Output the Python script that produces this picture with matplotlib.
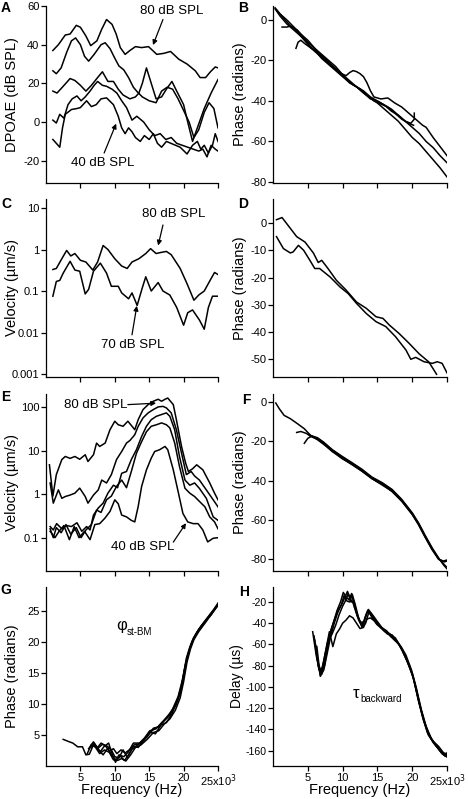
import matplotlib
matplotlib.use("Agg")
import matplotlib.pyplot as plt
from matplotlib.ticker import NullLocator

plt.rcParams['font.family'] = ['Liberation Sans', 'DejaVu Sans']
plt.rcParams['axes.linewidth'] = 0.9
plt.rcParams['axes.unicode_minus'] = False

# ---- data (frequency in kHz) ----
# A: DPOAE levels
a1_f = [1.0,1.8,2.8,3.5,4.4,5.0,5.8,6.5,7.4,8.1,8.8,9.6,10.2,10.8,11.5,12.2,13.0,13.9,14.9,16.1,17.1,18.1,19.3,20.5,21.7,22.4,23.2,23.9,24.6,25.0]
a1_v = [37,40,45,45.5,50,49,44.5,39.5,42,48,53,50.5,45.5,38.5,35,37,39,38.5,39,35,35.5,36.5,32.5,30,26.5,23,23,26,28.5,28]
a2_f = [1.0,1.5,2.2,3.0,3.7,4.3,5.0,5.6,6.2,7.0,8.0,8.6,9.3,10.0,10.6,11.3,12.0,12.7,13.3,14.0,15.0,16.0,16.8,17.6,18.4,19.2,20.0,20.8,21.5,22.2,23.0,23.7,24.4,25.0]
a2_v = [26.5,25,28,36,42,43.5,40,34,31.5,35,40,41,38,33,29,27,23,18,15.5,13,11,10,16,18,17,12,6,0,-8,-4,5,10,7,-3]
a3_f = [1.0,1.6,2.5,3.5,4.2,5.0,5.8,6.6,7.5,8.2,9.0,9.8,10.5,11.2,12.2,13.0,13.5,14.0,14.6,15.3,16.0,16.8,17.5,18.3,19.0,20.0,20.6,21.3,22.0,23.0,24.0,25.0]
a3_v = [16,15,18.5,22.5,21.5,19,16,19,23,26,21,21,17,14,12,13,15,20,28,20,12,13,17,21,16,9,0,-10,-3,7,15,22]
a4_f = [1.0,1.5,2.0,2.6,3.2,3.8,4.5,5.1,5.7,6.4,7.0,7.5,8.2,8.8,9.6,10.3,11.0,11.7,12.5,13.2,14.2,15.0,15.8,16.6,17.4,18.2,19.0,19.8,20.6,21.4,22.2,22.8,23.4,24.0,24.6,25.0]
a4_v = [1,-0.5,4,2,9,12,13.5,11,13,16,19,21,19,18.5,17,15,11,7.5,1,3,0,-4,-7,-6,-9,-8,-11,-12,-13,-14,-15,-14,-18,-12,-14,-15]
a5_f = [1.0,1.5,2.0,2.4,2.8,3.7,4.5,5.0,5.9,6.6,7.3,8.0,8.8,9.8,10.5,11.0,11.5,12.0,12.5,13.0,13.7,14.3,15.0,15.6,16.2,16.8,17.5,18.5,19.5,20.5,21.3,22.0,22.5,23.0,23.6,24.2,24.6,25.0]
a5_v = [-9,-11,-13,-3,4,6.5,7,7.5,11,8,9,12,12.5,9,3,-3,-6,-3,-5,-8,-10,-7,-9,-6,-11,-13,-10,-11.5,-13,-16.5,-12,-10,-14,-12,-16,-12,-6,-10]

# B: DPOAE phase
b1_f = [0.3,1.0,2.0,3.0,4.0,5.0,6.0,7.0,8.0,9.0,10.0,11.0,12.0,13.0,14.0,15.0,16.0,17.0,18.0,19.0,20.0,21.0,22.0,23.0,24.0,25.0]
b1_v = [5.5,2,-2,-5,-8,-11,-14,-18,-21,-24,-27,-30,-33,-36,-38.5,-41,-44,-47,-50,-54,-58,-61,-65,-69,-73,-77.5]
b2_f = [0.3,1.0,2.0,3.0,4.0,5.0,6.0,7.0,8.0,9.0,10.0,11.0,12.0,13.0,14.0,15.0,16.0,17.0,18.0,19.0,20.0,21.0,22.0,23.0,24.0,25.0]
b2_v = [6,3,0,-3.5,-7,-10,-14,-17,-20,-23,-27,-31,-33,-35,-38,-40,-42,-44,-47,-50,-53,-56,-60,-63,-67,-70.5]
b3_f = [0.5,1.5,2.5,3.5,4.5,5.5,6.5,7.5,8.5,9.5,10.5,11.0,11.5,12.0,12.5,13.0,13.5,14.0,14.5,15.5,16.5,17.5,18.5,19.5,20.5,21.5,22.0,23.0,24.0,25.0]
b3_v = [5,1,-3,-5,-9,-14,-16,-19,-23,-26,-27.5,-26,-25,-25.5,-26.5,-28,-31,-35,-38,-39,-38.5,-41,-43,-46,-49,-52,-53,-58,-62.5,-67]
b4_f = [1.3,2.0,2.5,3.0,4.0,5.0,6.0,7.0,8.0,9.0,10.0,11.0,12.0,13.0,14.0,15.0,16.0,17.0,18.0,19.0,19.8,20.3,20.3]
b4_v = [-3.5,-3.5,-3,-4,-8,-12,-15,-19,-22,-25,-28,-31,-33,-36,-39,-40,-42,-45,-47,-50,-51,-49,-46]
b5_f = [3.3,3.6,4.0,4.5,5.5,6.5,7.5,8.5,9.5,10.5,11.5,12.5,13.5,14.5,15.5,16.5,17.5,18.5,19.5,20.2]
b5_v = [-14,-11,-10,-11.5,-14,-17,-20,-22.5,-26,-29,-32,-34,-37,-40,-41.5,-43,-46,-49,-51,-52]

# C: stapes velocity
c80_f = [1.0,1.5,2.3,3.0,3.6,4.2,5.0,5.8,6.8,7.5,8.3,9.0,10.0,11.0,11.8,12.5,13.5,14.5,15.2,16.0,16.7,17.5,18.2,19.5,20.5,21.5,22.2,23.0,24.0,24.5,25.0]
c80_v = [0.33,0.35,0.6,0.95,0.7,0.8,0.55,0.5,0.32,0.5,1.25,1.0,0.6,0.4,0.35,0.5,0.6,0.8,1.05,0.8,0.85,0.9,0.75,0.35,0.15,0.06,0.08,0.1,0.2,0.28,0.25]
c70_f = [1.0,1.5,2.0,2.5,3.5,4.2,4.9,5.7,6.2,6.9,7.9,8.8,9.5,10.5,11.0,12.0,12.5,13.25,14.0,14.5,15.3,16.3,17.0,18.0,19.0,20.0,20.6,21.3,22.3,23.0,23.6,24.2,25.0]
c70_v = [0.075,0.17,0.18,0.27,0.52,0.32,0.3,0.085,0.11,0.3,0.47,0.27,0.13,0.13,0.09,0.065,0.09,0.045,0.12,0.22,0.1,0.16,0.1,0.08,0.04,0.015,0.03,0.035,0.02,0.012,0.04,0.075,0.075]

# D: stapes phase
d1_f = [0.5,1.3,2.2,3.4,4.6,5.8,6.5,7.0,7.9,9.1,10.5,12.0,13.4,14.8,15.8,16.7,18.1,19.5,21.0,22.4,23.5]
d1_v = [1.2,2,-1,-5,-7,-11,-14.5,-13.7,-16.7,-21,-24.6,-29,-31.3,-34.4,-35,-37.4,-40.5,-44,-48,-51,-55.5]
d2_f = [0.5,1.5,2.5,2.9,3.65,4.4,5.3,6.0,6.7,8.2,9.6,10.8,12.0,13.4,14.8,16.2,17.6,19.1,19.8,20.5,21.7,22.9,23.6,24.3,25.0]
d2_v = [-5,-9.4,-11,-10.6,-8.2,-10,-13.7,-16.7,-16.7,-19.8,-23.4,-25.9,-29.5,-33.2,-36.2,-38,-41.7,-46.6,-50,-49.3,-50.9,-51.5,-50.9,-51.5,-55]

# E: BM velocity, 40-80 dB SPL
e1_f = [0.5,1.0,1.5,2.3,2.8,3.5,4.2,4.9,5.7,6.1,6.9,7.35,7.8,8.6,9.3,10.0,10.5,11.2,11.9,12.7,12.9,13.4,14.1,14.85,15.6,16.3,16.8,17.3,17.7,18.5,18.95,19.7,20.3,20.7,21.3,21.9,22.8,23.8,24.5,25.0]
e1_v = [4.7,0.9,2.8,6.2,7.3,6.6,7.3,6.3,8,5.6,8,14.8,12.4,14.8,30,47,39,36,47,33,30,51,87,113,135,150,135,150,160,113,51,12.4,5.1,3.3,3.8,4.7,3.6,1.8,1.05,0.74]
e2_f = [0.6,1.06,1.8,2.3,2.8,3.5,4.2,4.9,5.7,6.1,6.9,7.6,8.1,8.8,9.5,10.25,11.0,11.7,12.2,12.9,13.4,14.1,14.85,15.6,16.3,17.0,17.5,18.2,18.95,19.7,20.4,21.1,21.6,22.3,23.3,24.3,25.0]
e2_v = [1.8,0.62,1.25,0.8,0.88,0.95,1.05,1.37,0.88,0.62,0.95,1.25,2.1,1.8,2.8,6.2,9.5,14.8,17,23,36,56,73,87,100,103,95,73,30,8.7,2.8,3.3,2.6,2.1,1.25,0.74,0.51]
e3_f = [0.6,1.06,1.55,2.3,3.0,3.7,4.5,5.2,5.9,6.4,6.9,7.6,8.3,9.0,9.8,10.4,11.0,11.7,12.4,13.15,13.9,14.6,15.3,16.05,16.8,17.5,18.0,18.7,19.4,20.2,20.9,21.6,22.3,23.3,24.3,25.0]
e3_v = [0.18,0.15,0.21,0.16,0.19,0.18,0.22,0.14,0.18,0.15,0.33,0.48,0.62,1.05,1.6,1.4,3.0,3.3,6.2,10.5,21,36,51,61,67,73,61,30,7.3,2.1,1.6,1.8,1.35,0.8,0.3,0.25]
e4_f = [0.6,1.06,1.5,2.2,2.9,3.6,4.4,5.1,5.8,6.6,7.35,8.0,8.8,9.5,10.25,11.0,11.7,12.4,13.15,13.9,14.6,15.3,16.05,16.8,17.5,18.0,18.7,19.4,20.2,20.9,21.6,22.3,23.1,23.8,24.5,25.0]
e4_v = [0.16,0.1,0.17,0.13,0.2,0.12,0.17,0.1,0.15,0.2,0.43,0.38,0.74,0.9,1.5,2.1,1.4,3.3,8.7,16,27,36,39,43,39,33,15,4.3,1.36,1.05,0.88,0.68,0.51,0.3,0.23,0.16]
e5_f = [0.6,1.3,1.9,2.6,3.4,4.1,4.8,5.6,6.4,7.1,7.8,8.56,9.3,10.0,10.5,11.0,11.7,12.4,12.9,13.4,13.9,14.6,15.3,15.8,16.5,17.3,17.7,18.5,19.2,19.9,20.6,21.4,22.1,22.8,23.5,24.3,25.0]
e5_v = [0.14,0.1,0.14,0.19,0.09,0.18,0.1,0.14,0.09,0.2,0.21,0.28,0.4,0.74,0.6,0.33,0.3,0.25,0.23,0.52,1.5,3.6,6.7,9.5,10.4,12.4,10.4,3.6,1.15,0.36,0.23,0.21,0.21,0.15,0.08,0.097,0.1]

# F: BM phase
f1_f = [0.4,0.9,1.6,2.5,3.5,4.5,5.4,6.4,7.3,8.5,9.9,11.4,12.8,14.2,15.7,17.1,18.5,20.0,20.9,21.9,22.85,23.8,24.8,25.0]
f1_v = [-0.5,-3.4,-6.8,-8.5,-11,-13.6,-17,-18.6,-20.8,-24.6,-28,-31.4,-34.7,-38.5,-41.5,-44.9,-50,-56.8,-61.9,-68.6,-74.6,-79.7,-83.6,-84]
f2_f = [3.4,4.0,4.8,5.4,6.4,7.3,8.5,9.9,11.4,12.8,14.2,15.7,17.1,18.5,20.0,20.9,21.9,22.85,23.8,24.5,25.0]
f2_v = [-15.5,-15,-16,-17.5,-19,-21.3,-25.2,-28.4,-32,-35.2,-39,-42,-45.6,-50.6,-57.3,-62.5,-69.2,-75.2,-80.2,-81,-80.5]
f3_f = [4.5,5.0,5.6,6.4,7.3,8.5,9.9,11.4,12.8,14.2,15.7,17.1,18.5,20.0,20.9,21.9,22.85,23.8,24.5,25.0]
f3_v = [-21,-18.5,-17.3,-18.2,-20.5,-24.2,-27.6,-31,-34.3,-38.2,-41.1,-44.5,-49.6,-56.4,-61.5,-68.2,-74.2,-79.5,-83,-85]
f4_f = [5.2,6.4,7.3,8.5,9.9,11.4,12.8,14.2,15.7,17.1,18.5,20.0,20.9,21.9,22.85,23.8,24.6,25.0]
f4_v = [-16.5,-19.2,-21.6,-25,-28.8,-31.9,-35.3,-39,-42.3,-45.4,-50.3,-57.2,-62.2,-68.9,-74.9,-80,-81.5,-81]

# G: phi st-BM
g1_f = [2.5,3.4,3.9,4.6,5.3,5.8,6.3,7.0,7.9,8.4,9.1,9.6,10.1,10.6,11.3,12.0,12.7,13.7,14.7,15.6,16.3,17.1,18.0,18.75,19.5,19.95,20.4,20.9,21.4,22.1,23.1,24.0,25.0]
g1_v = [4.3,3.9,3.7,3.1,3.1,1.8,1.9,3.7,2.3,3.1,3.7,2.0,0.6,1.8,1.5,2.3,3.7,3.7,4.7,6.1,6.3,7.2,8.2,9.6,11.7,14.4,17.4,19.2,20.6,21.9,23.3,24.4,26.0]
g2_f = [6.0,6.6,7.2,7.8,8.5,9.2,9.8,10.4,11.0,11.6,12.3,13.0,13.8,14.7,15.6,16.4,17.2,18.0,18.8,19.5,20.0,20.5,21.0,21.5,22.2,23.2,24.1,25.0]
g2_v = [2.0,3.5,3.0,2.0,2.6,2.2,1.0,0.9,1.2,0.8,1.8,3.0,3.4,4.3,5.4,5.7,6.8,7.6,9.0,11.0,13.6,16.8,18.9,20.4,21.7,23.2,24.6,26.2]
g3_f = [6.2,6.9,7.5,8.2,8.9,9.5,10.0,10.6,11.2,11.8,12.5,13.2,14.0,14.8,15.7,16.5,17.3,18.1,18.9,19.6,20.1,20.6,21.1,21.6,22.3,23.3,24.2,25.0]
g3_v = [2.8,3.9,2.8,3.5,3.2,2.6,1.5,1.3,2.6,1.4,2.7,3.3,3.9,5.0,6.0,6.4,7.6,8.6,9.9,12.2,15.0,17.8,19.6,20.9,22.2,23.5,24.8,25.9]
g4_f = [6.5,7.1,7.7,8.3,9.0,9.6,10.2,10.8,11.4,12.0,12.7,13.4,14.2,15.0,15.9,16.7,17.5,18.3,19.1,19.7,20.2,20.7,21.2,21.8,22.5,23.4,24.3,25.0]
g4_v = [3.0,3.4,2.5,1.8,2.9,1.6,1.0,1.6,0.9,1.8,3.2,3.0,4.1,5.5,5.2,6.6,7.0,8.4,10.6,13.0,16.0,18.3,20.0,21.3,22.5,23.8,25.1,26.1]
g5_f = [7.5,8.0,8.6,9.2,9.8,10.3,10.9,11.5,12.1,12.8,13.5,14.3,15.1,16.0,16.8,17.6,18.4,19.2,19.8,20.3,20.8,21.3,21.9,22.6,23.5,24.4,25.0]
g5_v = [3.0,3.7,3.3,2.4,2.8,2.0,2.6,2.1,2.6,3.4,3.6,4.5,5.7,6.0,7.0,7.8,9.2,11.2,13.8,16.6,18.6,20.2,21.5,22.7,24.0,25.3,26.3]

# H: backward delay
h1_f = [5.7,6.2,6.8,7.3,7.8,8.3,8.8,9.2,9.7,10.1,10.5,10.9,11.3,11.7,12.3,12.8,13.3,13.7,14.4,15.4,16.1,16.8,17.6,18.3,19.0,20.0,20.7,21.4,22.1,22.85,23.8,24.5,25.0]
h1_v = [-48,-70,-89,-75,-59,-47,-37,-28,-20,-11,-15,-18,-12,-25,-37,-43,-33,-27,-33,-42,-48,-50,-54,-62,-72,-87,-106,-125,-140,-150,-156,-162,-163]
h2_f = [5.9,6.4,6.9,7.4,7.9,8.4,8.9,9.4,9.9,10.3,10.7,11.1,11.5,12.0,12.5,13.0,13.5,14.0,14.8,15.6,16.3,17.0,17.8,18.5,19.2,20.1,20.8,21.5,22.2,23.0,23.9,24.6,25.0]
h2_v = [-52,-75,-86,-80,-60,-45,-35,-27,-22,-16,-10,-17,-21,-30,-38,-41,-30,-30,-38,-44,-47,-52,-57,-64,-74,-90,-110,-128,-143,-152,-159,-164,-165]
h3_f = [6.0,6.5,7.0,7.5,8.0,8.5,9.0,9.5,10.0,10.4,10.8,11.2,11.6,12.1,12.6,13.1,13.6,14.2,14.9,15.7,16.4,17.1,17.9,18.6,19.3,20.2,20.9,21.6,22.3,23.1,24.0,24.7,25.0]
h3_v = [-56,-80,-88,-70,-56,-50,-42,-32,-24,-19,-12,-20,-19,-33,-40,-38,-28,-34,-41,-45,-50,-51,-58,-66,-76,-92,-113,-131,-145,-153,-160,-165,-164]
h4_f = [6.1,6.6,7.1,7.6,8.1,8.6,9.1,9.6,10.0,10.5,11.0,11.5,12.0,12.5,13.0,13.5,14.0,14.6,15.4,16.2,17.0,17.7,18.4,19.1,19.9,20.6,21.3,22.0,22.7,23.5,24.3,25.0]
h4_v = [-60,-84,-82,-65,-48,-62,-50,-45,-40,-37,-33,-35,-40,-45,-44,-36,-35,-38,-43,-48,-53,-56,-62,-70,-84,-101,-121,-137,-148,-156,-163,-166]
h5_f = [6.3,6.8,7.3,7.8,8.3,8.8,9.3,9.8,10.2,10.6,11.0,11.4,11.8,12.3,12.8,13.3,13.8,14.4,15.1,15.9,16.6,17.3,18.1,18.8,19.6,20.4,21.1,21.8,22.5,23.3,24.1,24.8,25.0]
h5_v = [-62,-90,-84,-68,-52,-40,-30,-23,-14,-19,-20,-13,-22,-35,-44,-40,-29,-36,-42,-47,-50,-55,-60,-68,-80,-97,-117,-134,-146,-154,-161,-164,-162]

xticks = [5, 10, 15, 20, 25]
xticklabels = ['5', '10', '15', '20', r'25x10$^3$']

W, H = 468, 799
fig = plt.figure(figsize=(W / 100, H / 100), dpi=100)

cols = [(46, 218), (273, 447)]
rows = [(6, 183), (199, 377), (394, 571), (587, 766)]
ylab_x = [12, 240]   # pixel x of the y-label centres


def make_ax(r, c):
    x0, x1 = cols[c]
    y0, y1 = rows[r]
    ax = fig.add_axes([x0 / W, 1 - y1 / H, (x1 - x0) / W, (y1 - y0) / H])
    ax.spines['top'].set_visible(False)
    ax.spines['right'].set_visible(False)
    ax.set_xlim(0, 25)
    ax.set_xticks(xticks)
    ax.tick_params(direction='out', length=3.5, width=0.9, labelsize=8, pad=1.2)
    if r == 3:
        ax.set_xticklabels(xticklabels)
        ax.set_xlabel('Frequency (Hz)', fontsize=10.5, va='center')
        ax.xaxis.set_label_coords(0.5, (y1 - 790) / (y1 - y0))
    else:
        ax.tick_params(labelbottom=False)
    return ax


def ylab(ax, c, txt, x=None, size=10.5):
    x0, x1 = cols[c]
    if x is None:
        x = ylab_x[c]
    ax.set_ylabel(txt, fontsize=size, va='center')
    ax.yaxis.set_label_coords((x - x0) / (x1 - x0), 0.5)


def lines(ax, pairs):
    for f, v in pairs:
        ax.plot(f, v, color='black', lw=1.1)


def note(ax, txt, pos, tail, head, ha='center'):
    ax.text(pos[0], pos[1], txt, ha=ha, va='center', fontsize=9.5)
    ax.annotate('', xy=head, xytext=tail,
                arrowprops=dict(arrowstyle='-|>', color='black', lw=0.9,
                                mutation_scale=7, shrinkA=0, shrinkB=0))


# A
ax = make_ax(0, 0)
lines(ax, [(a1_f, a1_v), (a2_f, a2_v), (a3_f, a3_v), (a4_f, a4_v), (a5_f, a5_v)])
ax.set_ylim(-31.5, 60)
ax.set_yticks([-20, 0, 20, 40, 60])
ylab(ax, 0, 'DPOAE (dB SPL)')
note(ax, '80 dB SPL', (18.3, 57.4), (17.0, 53.0), (15.55, 39.8))
note(ax, '40 dB SPL', (8.3, -21.0), (8.45, -16.0), (10.2, -0.8))

# B
ax = make_ax(0, 1)
lines(ax, [(b1_f, b1_v), (b2_f, b2_v), (b3_f, b3_v), (b4_f, b4_v), (b5_f, b5_v)])
ax.set_ylim(-80.5, 6.9)
ax.set_yticks([-80, -60, -40, -20, 0])
ylab(ax, 1, 'Phase (radians)')

# C
ax = make_ax(1, 0)
lines(ax, [(c80_f, c80_v), (c70_f, c70_v)])
ax.set_yscale('log')
ax.set_ylim(0.000847, 16.5)
ax.set_yticks([0.001, 0.01, 0.1, 1, 10])
ax.set_yticklabels(['0.001', '0.01', '0.1', '1', '10'])
ax.yaxis.set_minor_locator(NullLocator())
ylab(ax, 0, 'Velocity (µm/s)')
note(ax, '80 dB SPL', (18.5, 7.2), (17.0, 3.9), (16.3, 1.25))
note(ax, '70 dB SPL', (12.65, 0.005), (12.5, 0.0088), (13.2, 0.044))

# D
ax = make_ax(1, 1)
lines(ax, [(d1_f, d1_v), (d2_f, d2_v)])
ax.set_ylim(-56.5, 8.8)
ax.set_yticks([-50, -40, -30, -20, -10, 0])
ylab(ax, 1, 'Phase (radians)')

# E
ax = make_ax(2, 0)
lines(ax, [(e1_f, e1_v), (e2_f, e2_v), (e3_f, e3_v), (e4_f, e4_v), (e5_f, e5_v)])
ax.set_yscale('log')
ax.set_ylim(0.0172, 198)
ax.set_yticks([0.1, 1, 10, 100])
ax.set_yticklabels(['0.1', '1', '10', '100'])
ax.yaxis.set_minor_locator(NullLocator())
ylab(ax, 0, 'Velocity (µm/s)')
note(ax, '80 dB SPL', (11.8, 111), (11.9, 113), (16.0, 122), ha='right')
note(ax, '40 dB SPL', (14.1, 0.061), (18.5, 0.079), (20.35, 0.215))

# F
ax = make_ax(2, 1)
lines(ax, [(f1_f, f1_v), (f2_f, f2_v), (f3_f, f3_v), (f4_f, f4_v)])
ax.set_ylim(-86.1, 4.1)
ax.set_yticks([-80, -60, -40, -20, 0])
ylab(ax, 1, 'Phase (radians)')

# G
ax = make_ax(3, 0)
lines(ax, [(g1_f, g1_v), (g2_f, g2_v), (g3_f, g3_v), (g4_f, g4_v), (g5_f, g5_v)])
ax.set_ylim(0, 28.9)
ax.set_yticks([5, 10, 15, 20, 25])
ylab(ax, 0, 'Phase (radians)')
ax.text(11.05, 22.7, 'φ', ha='center', va='center', fontsize=12)
ax.text(11.8, 21.7, 'st-BM', ha='left', va='center', fontsize=7)

# H
ax = make_ax(3, 1)
lines(ax, [(h1_f, h1_v), (h2_f, h2_v), (h3_f, h3_v), (h4_f, h4_v), (h5_f, h5_v)])
ax.set_ylim(-174.4, -5.9)
ax.set_yticks(list(range(-160, -19, 20)))
ax.tick_params(axis='y', labelsize=7.6)
ylab(ax, 1, 'Delay (µs)', x=237, size=10)
ax.text(12.0, -106, 'τ', ha='center', va='center', fontsize=12)
ax.text(12.6, -111, 'backward', ha='left', va='center', fontsize=7)

# panel letters
for lab, x, y in [('A', 6, 8), ('B', 243, 8), ('C', 6, 204), ('D', 243, 204),
                  ('E', 6, 397), ('F', 246, 400), ('G', 6, 590), ('H', 244, 592)]:
    fig.text(x / W, 1 - y / H, lab, ha='center', va='center',
             fontsize=10, fontweight='bold')

fig.savefig('out.png', dpi=100)
